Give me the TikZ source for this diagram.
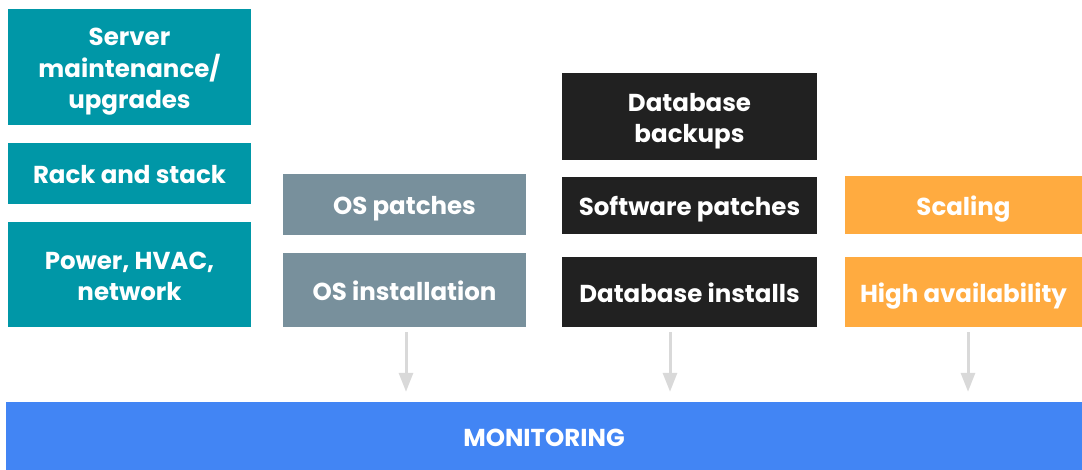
\documentclass[tikz,border=0pt]{standalone}
\usepackage{fontspec}
\setmainfont{Poppins}
\usepackage{tikz}
\usetikzlibrary{arrows.meta}
\definecolor{ColTeal}{RGB}{0,151,167}
\definecolor{ColSlate}{RGB}{120,144,156}
\definecolor{ColDark}{RGB}{33,33,33}
\definecolor{ColOrange}{RGB}{255,171,64}
\definecolor{ColBlue}{RGB}{66,133,244}
\definecolor{ColArrow}{RGB}{217,217,217}
\tikzstyle{BoxTask}=[rectangle,inner sep=0pt,text=white,align=center,
text height=21pt,text depth=0pt,font=\fontsize{24.5}{31.5}\selectfont\bfseries]
\tikzstyle{TwoLines}=[text height=52.5pt]
\tikzstyle{ThreeLines}=[text height=84pt]
\tikzstyle{BoxTeal}=[BoxTask,fill=ColTeal,minimum width=243pt]
\tikzstyle{BoxSlate}=[BoxTask,fill=ColSlate,minimum width=243pt]
\tikzstyle{BoxDark}=[BoxTask,fill=ColDark,minimum width=255pt]
\tikzstyle{BoxOrange}=[BoxTask,fill=ColOrange,minimum width=237pt]
\tikzstyle{EdgeDown}=[ColArrow,line width=3pt,-{Triangle[width=14pt,length=19pt]},
shorten <=5pt,shorten >=10pt]

\begin{document}
\begin{tikzpicture}[x=1pt,y=-1pt]
        \useasboundingbox(0,0)rectangle(1082,470);
        \node[BoxTeal,ThreeLines,minimum height=116pt](server)at(129.5,67){Server\\maintenance/\\upgrades};
        \node[BoxTeal,minimum height=61pt](rack)at(129.5,173.5){Rack and stack};
        \node[BoxTeal,TwoLines,minimum height=105pt](power)at(129.5,274.5){Power, HVAC,\\network};
        \node[BoxSlate,minimum height=61pt](ospatch)at(404.5,204.5){OS patches};
        \node[BoxSlate,minimum height=74pt](osinst)at(404.5,290){OS installation};
        \node[BoxDark,TwoLines,minimum height=87pt](dbbackup)at(689.5,116.5){Database\\backups};
        \node[BoxDark,minimum height=57pt](swpatch)at(689.5,205.5){Software patches};
        \node[BoxDark,minimum height=70pt](dbinst)at(689.5,292){Database installs};
        \node[BoxOrange,minimum height=58pt](scaling)at(963.5,205){Scaling};
        \node[BoxOrange,minimum height=70pt](highav)at(963.5,292){High availability};
        \node[BoxTask,fill=ColBlue,minimum width=1076pt,minimum height=68pt](monitor)at(544,436){MONITORING};
        \draw[EdgeDown]([xshift=1.5pt]osinst.south)--([xshift=1.5pt]osinst.south|-monitor.north);
        \draw[EdgeDown]([xshift=-19.5pt]dbinst.south)--([xshift=-19.5pt]dbinst.south|-monitor.north);
        \draw[EdgeDown]([xshift=4.5pt]highav.south)--([xshift=4.5pt]highav.south|-monitor.north);
    \end{tikzpicture}
\end{document}
